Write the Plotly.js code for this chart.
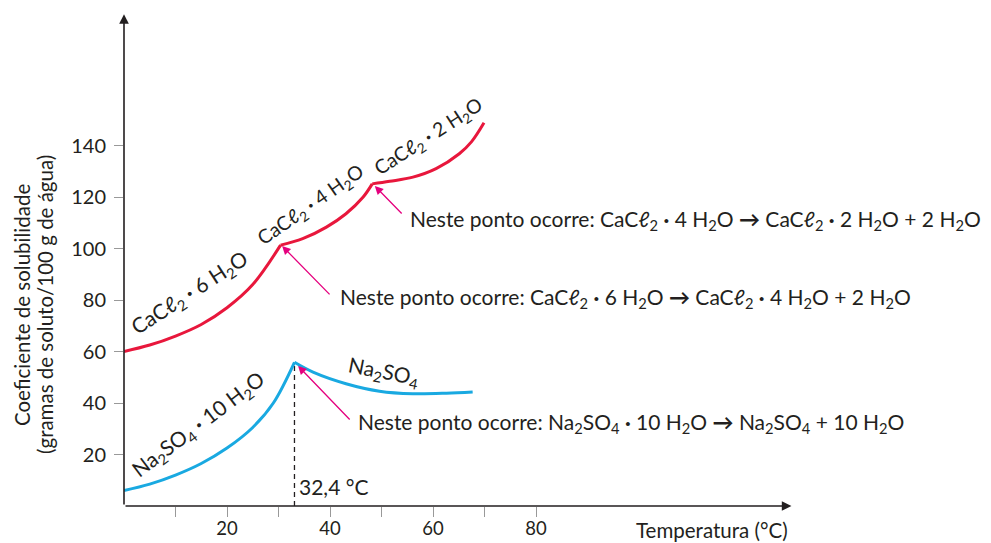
<!DOCTYPE html>
<html>
<head>
<meta charset="utf-8">
<script src="https://cdn.plot.ly/plotly-3.0.1.min.js"></script>
<style>html,body{margin:0;padding:0;background:#fff;}#chart{width:991px;height:543px;}</style>
</head>
<body>
<div id="chart"></div>
<script>
// CaCl2 hydrates (temperature °C, solubility g/100 g water)
var cacl2_6h2o_T = [0, 5, 10, 15, 20, 25, 30.4];
var cacl2_6h2o_S = [60, 62.5, 66, 70.5, 77, 86, 101.3];
var cacl2_4h2o_T = [30.4, 34.7, 39.3, 43.1, 46.4, 48.2];
var cacl2_4h2o_S = [101.3, 103.8, 108.3, 113.5, 119.9, 125.1];
var cacl2_2h2o_T = [48.2, 51.6, 56.1, 60.6, 65.1, 67.5, 69.9];
var cacl2_2h2o_S = [125.1, 126.1, 127.7, 131, 136.8, 141.5, 148.8];
// Na2SO4
var na_10h2o_T = [0, 5, 10, 15, 20, 25, 29, 33.1];
var na_10h2o_S = [6, 8.5, 12, 16.5, 22.5, 30.5, 40, 55.8];
var na_anh_T = [33.1, 36.7, 43.1, 49.6, 56.1, 62.6, 67.7];
var na_anh_S = [55.8, 52, 47.5, 44.6, 43.6, 43.8, 44.3];
// ticks
var xTickVals = [10, 20, 30, 40, 50, 60, 70, 80];
var xTickText = ['', '20', '', '40', '', '60', '', '80'];
var yTickVals = [20, 40, 60, 80, 100, 120, 140];
var yTickText = ['20', '40', '60', '80', '100', '120', '140'];

var RED = '#e8173c', BLUE = '#19a9e1', MAG = '#e5007e', INK = '#231f20';
var FONT = 'Lato, "Noto Sans", sans-serif';

function seg(x, y, c) {
  return {x: x, y: y, type: 'scatter', mode: 'lines', showlegend: false, hoverinfo: 'skip',
          line: {color: c, width: 3, shape: 'spline', smoothing: 1}, cliponaxis: false};
}
var data = [
  seg(cacl2_6h2o_T, cacl2_6h2o_S, RED),
  seg(cacl2_4h2o_T, cacl2_4h2o_S, RED),
  seg(cacl2_2h2o_T, cacl2_2h2o_S, RED),
  seg(na_10h2o_T, na_10h2o_S, BLUE),
  seg(na_anh_T, na_anh_S, BLUE)
];

var CL = 'CaCℓ<sub>2</sub>';
var H2O = 'H<sub>2</sub>O';
var NA = 'Na<sub>2</sub>SO<sub>4</sub>';
var DOT = ' <b>·</b> ';

function lab(x, y, t, ang, sz) {
  return {x: x, y: y, xref: 'x', yref: 'y', text: t, textangle: ang, showarrow: false,
          xanchor: 'center', yanchor: 'middle', font: {family: FONT, size: sz || 21, color: INK}};
}
function note(x, y, t) {
  return {x: x, y: y, xref: 'x', yref: 'y', text: t, showarrow: false,
          xanchor: 'left', yanchor: 'middle', font: {family: FONT, size: 21, color: INK}};
}
function marr(x, y, ax, ay) {
  return {x: x, y: y, ax: ax, ay: ay, xref: 'x', yref: 'y', axref: 'x', ayref: 'y', text: '',
          showarrow: true, arrowhead: 2, arrowsize: 1.3, arrowwidth: 1.3, arrowcolor: MAG, standoff: 0};
}
var pk = na_10h2o_T.length - 1;

var annotations = [
  // axes with arrows
  {x: 0, y: 191, ax: 0, ay: 0, xref: 'x', yref: 'y', axref: 'x', ayref: 'y', text: '',
   showarrow: true, arrowhead: 2, arrowsize: 1.2, arrowwidth: 1.6, arrowcolor: INK, standoff: 0},
  {x: 129.6, y: 0, ax: 0, ay: 0, xref: 'x', yref: 'y', axref: 'x', ayref: 'y', text: '',
   showarrow: true, arrowhead: 2, arrowsize: 1.2, arrowwidth: 1.6, arrowcolor: INK, standoff: 0},
  // curve labels
  lab(12.8, 82.7, CL + DOT + '6 ' + H2O, -33, 21),
  lab(36.4, 116.8, CL + DOT + '4 ' + H2O, -35, 19.5),
  lab(59.2, 143.2, CL + DOT + '2 ' + H2O, -33, 19.5),
  lab(14.4, 31.5, NA + DOT + '10 ' + H2O, -37, 21),
  lab(50.5, 52, NA, 11, 21),
  note(33.6, 7.4, '32,4 °C'),
  // transition notes
  note(41.6, 80.8, 'Neste ponto ocorre: ' + CL + DOT + '6 ' + H2O + ' <b>→</b> ' + CL + DOT + '4 ' + H2O + ' + 2 ' + H2O),
  note(55.1, 111.1, 'Neste ponto ocorre: ' + CL + DOT + '4 ' + H2O + ' <b>→</b> ' + CL + DOT + '2 ' + H2O + ' + 2 ' + H2O),
  note(45, 32.2, 'Neste ponto ocorre: ' + NA + DOT + '10 ' + H2O + ' <b>→</b> ' + NA + ' + 10 ' + H2O),
  marr(30.7, 101, 40.2, 81.6),
  marr(48.7, 124.3, 54.2, 113),
  marr(33.8, 54.4, 44.1, 33),
  // axis titles
  {x: 1 - (991 - 790) / 867, y: -24 / 506, xref: 'paper', yref: 'paper', text: 'Temperatura (°C)',
   showarrow: false, xanchor: 'right', yanchor: 'middle', font: {family: FONT, size: 20.5, color: INK}},
  {x: (22 - 124) / 867, y: (506 - 305) / 506, xref: 'paper', yref: 'paper',
   text: 'Coeficiente de solubilidade', textangle: -90,
   showarrow: false, xanchor: 'center', yanchor: 'middle', font: {family: FONT, size: 20.5, color: INK}},
  {x: (45 - 124) / 867, y: (506 - 305) / 506, xref: 'paper', yref: 'paper',
   text: '(gramas de soluto/100 g de água)', textangle: -90,
   showarrow: false, xanchor: 'center', yanchor: 'middle', font: {family: FONT, size: 20.5, color: INK}}
];

var layout = {
  width: 991, height: 543,
  margin: {l: 124, r: 0, t: 0, b: 37, pad: 0},
  paper_bgcolor: '#fff', plot_bgcolor: '#fff',
  showlegend: false,
  font: {family: FONT, color: INK},
  xaxis: {range: [0, 867 / 5.15], showgrid: false, zeroline: false, showline: false,
          tickmode: 'array', tickvals: xTickVals, ticktext: xTickText, ticks: 'outside',
          ticklen: 10, tickwidth: 1, tickcolor: '#999', tickfont: {family: FONT, size: 18.5, color: INK},
          ticklabelstandoff: -4, fixedrange: true, automargin: false},
  yaxis: {range: [0, 506 / 2.575], showgrid: false, zeroline: false, showline: false,
          tickmode: 'array', tickvals: yTickVals, ticktext: yTickText, ticks: 'outside',
          ticklen: 9, tickwidth: 1, tickcolor: '#999', tickfont: {family: FONT, size: 20, color: INK},
          ticklabelstandoff: 4, fixedrange: true, automargin: false},
  shapes: [
    {type: 'line', xref: 'x', yref: 'y', x0: na_10h2o_T[pk], x1: na_10h2o_T[pk], y0: 0, y1: na_10h2o_S[pk],
     line: {color: INK, width: 1.3, dash: '5px,4px'}, layer: 'below'}
  ],
  annotations: annotations
};

Plotly.newPlot('chart', data, layout, {displayModeBar: false, staticPlot: true});
</script>
</body>
</html>
